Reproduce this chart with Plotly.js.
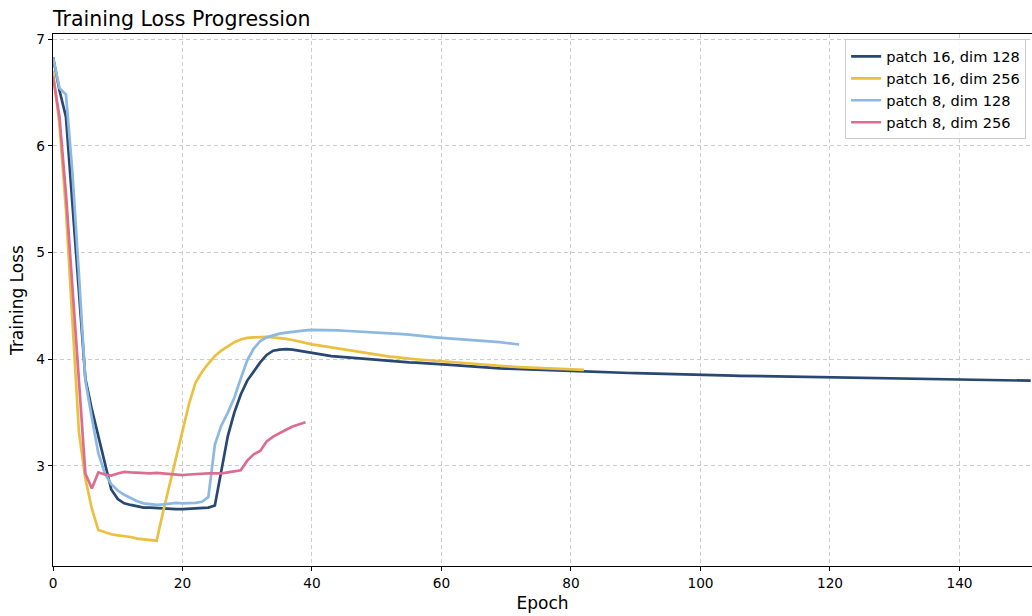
<!DOCTYPE html>
<html>
<head>
<meta charset="utf-8">
<script src="https://cdn.plot.ly/plotly-3.0.1.min.js"></script>
<style>html,body{margin:0;padding:0;background:#fff;}#chart{width:1032px;height:616px;}</style>
</head>
<body>
<div id="chart"></div>
<script>
// Series names
const seriesNames = ["patch 16, dim 128", "patch 16, dim 256", "patch 8, dim 128", "patch 8, dim 256"];

// Training loss per epoch (index = epoch)
const lossP16D128 = [
  6.83, 6.52, 6.27, 5.45, 4.60, 3.82, 3.53, 3.27, 3.02, 2.78,
  2.69, 2.65, 2.635, 2.625, 2.61, 2.61, 2.605, 2.60, 2.60, 2.595,
  2.595, 2.60, 2.60, 2.605, 2.61, 2.63, 2.97, 3.28, 3.50, 3.67,
  3.80, 3.89, 3.97, 4.04, 4.08, 4.09, 4.095, 4.09, 4.08, 4.07,
  4.06, 4.045, 4.035, 4.03, 4.025, 4.02, 4.015, 4.01, 4.005, 4.00,
  3.99, 3.985, 3.98, 3.978, 3.975, 3.97, 3.968, 3.965, 3.96, 3.958,
  3.955, 3.95, 3.945, 3.94, 3.935, 3.93, 3.925, 3.92, 3.918, 3.915,
  3.913, 3.91, 3.908, 3.905, 3.903, 3.90, 3.898, 3.895, 3.893, 3.89,
  3.89, 3.888, 3.885, 3.883, 3.88, 3.879, 3.877, 3.875, 3.873, 3.871,
  3.87, 3.868, 3.866, 3.865, 3.863, 3.861, 3.858, 3.855, 3.854, 3.853,
  3.852, 3.851, 3.85, 3.849, 3.848, 3.846, 3.845, 3.844, 3.843, 3.842,
  3.841, 3.84, 3.839, 3.838, 3.837, 3.836, 3.834, 3.832, 3.831, 3.83,
  3.829, 3.827, 3.825, 3.824, 3.823, 3.822, 3.821, 3.82, 3.818, 3.817,
  3.816, 3.815, 3.814, 3.813, 3.812, 3.811, 3.81, 3.809, 3.809, 3.808,
  3.807, 3.806, 3.805, 3.805, 3.804, 3.803, 3.802, 3.802, 3.801, 3.80,
  3.80, 3.799
];

const lossP16D256 = [
  6.70, 6.20, 5.40, 4.40, 3.32, 2.88, 2.60, 2.40, 2.38, 2.36,
  2.35, 2.345, 2.335, 2.32, 2.315, 2.31, 2.30, 2.57, 2.83, 3.07,
  3.33, 3.58, 3.78, 3.88, 3.96, 4.03, 4.08, 4.12, 4.16, 4.185,
  4.20, 4.205, 4.21, 4.21, 4.205, 4.20, 4.19, 4.18, 4.165, 4.15,
  4.14, 4.13, 4.12, 4.11, 4.10, 4.09, 4.08, 4.07, 4.06, 4.05,
  4.04, 4.03, 4.025, 4.02, 4.01, 4.005, 4.00, 3.995, 3.99, 3.985,
  3.98, 3.975, 3.97, 3.965, 3.96, 3.955, 3.95, 3.945, 3.94, 3.937,
  3.933, 3.93, 3.927, 3.924, 3.92, 3.918, 3.915, 3.912, 3.91, 3.908,
  3.905, 3.903, 3.90
];

const lossP8D128 = [
  6.83, 6.54, 6.48, 5.75, 4.80, 3.80, 3.45, 3.12, 2.93, 2.83,
  2.77, 2.73, 2.70, 2.67, 2.65, 2.64, 2.635, 2.64, 2.645, 2.655,
  2.65, 2.65, 2.655, 2.665, 2.71, 3.20, 3.38, 3.50, 3.64, 3.82,
  3.99, 4.10, 4.17, 4.205, 4.225, 4.24, 4.25, 4.258, 4.265, 4.27,
  4.275, 4.275, 4.273, 4.272, 4.27, 4.267, 4.264, 4.262, 4.26, 4.257,
  4.254, 4.25, 4.245, 4.24, 4.235, 4.23, 4.222, 4.215, 4.21, 4.205,
  4.20, 4.196, 4.192, 4.188, 4.184, 4.18, 4.176, 4.172, 4.168, 4.16,
  4.152, 4.145, 4.138
];

const lossP8D256 = [
  6.65, 6.27, 5.55, 4.65, 3.75, 2.93, 2.79, 2.94, 2.92, 2.91,
  2.93, 2.945, 2.94, 2.935, 2.93, 2.93, 2.935, 2.93, 2.925, 2.92,
  2.915, 2.92, 2.925, 2.925, 2.93, 2.93, 2.93, 2.94, 2.95, 2.96,
  3.05, 3.11, 3.14, 3.23, 3.275, 3.31, 3.34, 3.37, 3.39, 3.41
];

const xTicks = [0, 20, 40, 60, 80, 100, 120, 140];
const yTicks = [3, 4, 5, 6, 7];

const allSeries = [lossP16D128, lossP16D256, lossP8D128, lossP8D256];
const colors = ["#284872", "#ebc040", "#8cb8e2", "#db6e90"];

const traces = allSeries.map((vals, k) => ({
  type: "scatter",
  mode: "lines",
  name: seriesNames[k],
  x: vals.map((_, i) => i),
  y: vals,
  line: {color: colors[k], width: 2.7},
  hoverinfo: "skip"
}));

const font = "DejaVu Sans, sans-serif";
const layout = {
  width: 1032, height: 616,
  margin: {l: 53, r: 0, t: 34, b: 50, pad: 0},
  paper_bgcolor: "#ffffff", plot_bgcolor: "#ffffff",
  font: {family: font, color: "#000000", size: 14},
  title: {text: "Training Loss Progression", x: 53/1032, xref: "container", xanchor: "left",
          y: 1 - 19/616, yref: "container", yanchor: "middle",
          font: {family: font, size: 20.5, color: "#000000"}},
  xaxis: {
    range: [0, 151.2], tickvals: xTicks, ticks: "outside", ticklen: 4, tickwidth: 1, tickcolor: "#000",
    showline: true, linecolor: "#000", linewidth: 1.2, mirror: true, zeroline: false,
    showgrid: true, gridcolor: "#cccccc", gridwidth: 1, griddash: "4px,3px",
    tickfont: {family: font, size: 13.7, color: "#000"},
    title: {text: "Epoch", font: {family: font, size: 17, color: "#000"}, standoff: 7}
  },
  yaxis: {
    range: [2.063, 7.047], tickvals: yTicks, ticks: "outside", ticklen: 4, tickwidth: 1, tickcolor: "#000",
    showline: true, linecolor: "#000", linewidth: 1.2, zeroline: false,
    showgrid: true, gridcolor: "#cccccc", gridwidth: 1, griddash: "4px,3px",
    tickfont: {family: font, size: 13.7, color: "#000"},
    title: {text: "Training Loss", font: {family: font, size: 17, color: "#000"}, standoff: 8}
  },
  legend: {
    x: 0.994, xanchor: "right", y: 0.99, yanchor: "top",
    bgcolor: "rgba(255,255,255,0.85)", bordercolor: "#cccccc", borderwidth: 1,
    font: {family: font, size: 14.6, color: "#000"}, itemwidth: 30, tracegroupgap: 0
  },
  showlegend: true
};

Plotly.newPlot("chart", traces, layout, {displayModeBar: false, staticPlot: true});
</script>
</body>
</html>
